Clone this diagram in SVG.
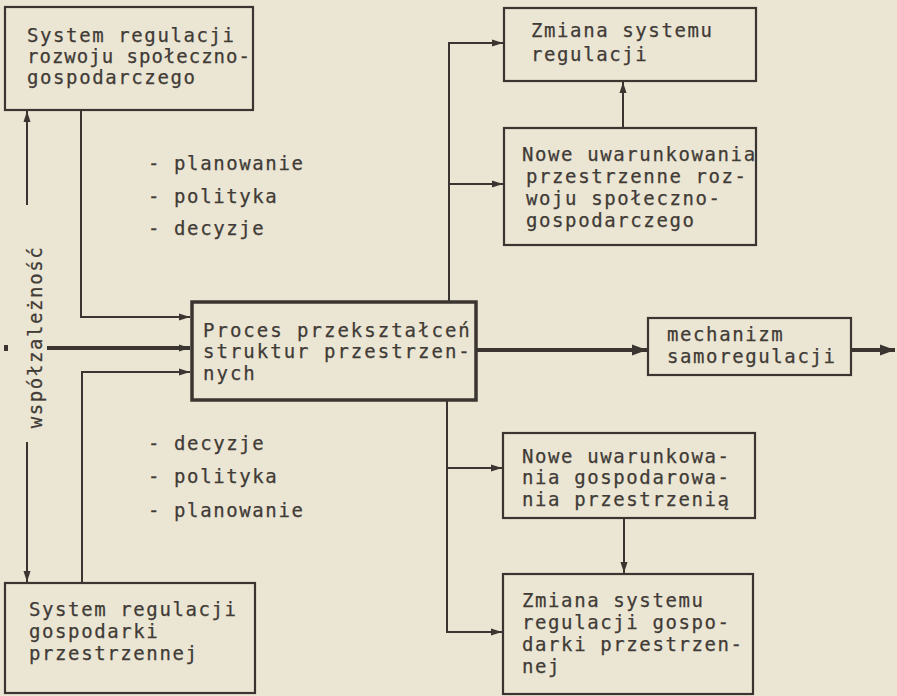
<svg xmlns="http://www.w3.org/2000/svg" width="897" height="696" viewBox="0 0 897 696">
<defs>
<style>
.bg{fill:#ebe5d3}
.box{fill:none;stroke:#3a3530;stroke-width:2.2}
.boxb{fill:none;stroke:#3a3530;stroke-width:3.5}
.ln{fill:none;stroke:#3a3530;stroke-width:2}
.lnb{fill:none;stroke:#3a3530;stroke-width:4}
text{font-family:"DejaVu Sans Mono","Liberation Mono",monospace;font-size:19px;letter-spacing:1.6px;fill:#403b36;stroke:#403b36;stroke-width:0.25}
</style>
<marker id="a" markerUnits="userSpaceOnUse" markerWidth="12" markerHeight="8" refX="11" refY="4" orient="auto">
<path d="M0,0.5 L11,4 L0,7.5 Z" fill="#3a3530"/>
</marker>
<marker id="ab" markerUnits="userSpaceOnUse" markerWidth="16" markerHeight="12" refX="15" refY="6" orient="auto">
<path d="M0,0.5 L15,6 L0,11.5 Z" fill="#3a3530"/>
</marker>
</defs>
<rect class="bg" x="0" y="0" width="897" height="696"/>

<g id="connectors">
<line class="ln" x1="27" y1="205" x2="27" y2="111" marker-end="url(#a)"/>
<line class="ln" x1="27" y1="442" x2="27" y2="582" marker-end="url(#a)"/>
<polyline class="ln" points="81,110 81,317 190,317" marker-end="url(#a)"/>
<polyline class="ln" points="82,583 82,372 190,372" marker-end="url(#a)"/>
<rect x="4" y="345" width="4" height="6" fill="#3a3530"/>
<line class="lnb" x1="47" y1="348" x2="190" y2="348" marker-end="url(#a)"/>
<line class="lnb" x1="477" y1="350" x2="647" y2="350" marker-end="url(#ab)"/>
<line class="lnb" x1="852" y1="350" x2="895" y2="350" marker-end="url(#ab)"/>
<polyline class="ln" points="449,301 449,43 503,43" marker-end="url(#a)"/>
<line class="ln" x1="449" y1="184" x2="503" y2="184" marker-end="url(#a)"/>
<line class="ln" x1="623" y1="128" x2="623" y2="82" marker-end="url(#a)"/>
<polyline class="ln" points="447,401 447,632 502,632" marker-end="url(#a)"/>
<line class="ln" x1="447" y1="468" x2="502" y2="468" marker-end="url(#a)"/>
<line class="ln" x1="624" y1="518" x2="624" y2="573" marker-end="url(#a)"/>
</g>

<g id="sys-rozwoju">
<rect class="box" x="5" y="7" width="248" height="103"/>
<text x="27" y="42">System regulacji</text>
<text x="27" y="63" style="letter-spacing:1px">rozwoju społeczno-</text>
<text x="27" y="84">gospodarczego</text>
</g>

<g id="sys-gospodarki">
<rect class="box" x="5" y="583" width="250" height="110"/>
<text x="29" y="616">System regulacji</text>
<text x="29" y="638">gospodarki</text>
<text x="29" y="660">przestrzennej</text>
</g>

<g id="label-upper">
<text x="148" y="170">- planowanie</text>
<text x="148" y="203">- polityka</text>
<text x="148" y="235">- decyzje</text>
</g>

<g id="label-lower">
<text x="148" y="450">- decyzje</text>
<text x="148" y="483">- polityka</text>
<text x="148" y="517">- planowanie</text>
</g>

<g id="label-wspolzaleznosc">
<text transform="translate(42,337) rotate(-90)" text-anchor="middle">współzależność</text>
</g>

<g id="proces">
<rect class="boxb" x="192" y="302" width="284" height="98"/>
<text x="203" y="337" style="letter-spacing:2px">Proces przekształceń</text>
<text x="203" y="358" style="letter-spacing:2px">struktur przestrzen-</text>
<text x="203" y="380" style="letter-spacing:2px">nych</text>
</g>

<g id="mechanizm">
<rect class="box" x="648" y="318" width="203" height="57"/>
<text x="667" y="341">mechanizm</text>
<text x="667" y="363">samoregulacji</text>
</g>

<g id="zmiana-regulacji">
<rect class="box" x="504" y="8" width="252" height="73"/>
<text x="531" y="37">Zmiana systemu</text>
<text x="531" y="61">regulacji</text>
</g>

<g id="nowe-rozwoju">
<rect class="box" x="504" y="128" width="252" height="117"/>
<text x="522" y="161">Nowe uwarunkowania</text>
<text x="526" y="183">przestrzenne roz-</text>
<text x="526" y="205">woju społeczno-</text>
<text x="526" y="227">gospodarczego</text>
</g>

<g id="nowe-gospodarowania">
<rect class="box" x="503" y="433" width="252" height="85"/>
<text x="522" y="463">Nowe uwarunkowa-</text>
<text x="522" y="484">nia gospodarowa-</text>
<text x="522" y="506">nia przestrzenią</text>
</g>

<g id="zmiana-gospodarki">
<rect class="box" x="503" y="574" width="250" height="120"/>
<text x="522" y="607">Zmiana systemu</text>
<text x="522" y="629">regulacji gospo-</text>
<text x="522" y="651">darki przestrzen-</text>
<text x="522" y="673">nej</text>
</g>
</svg>
